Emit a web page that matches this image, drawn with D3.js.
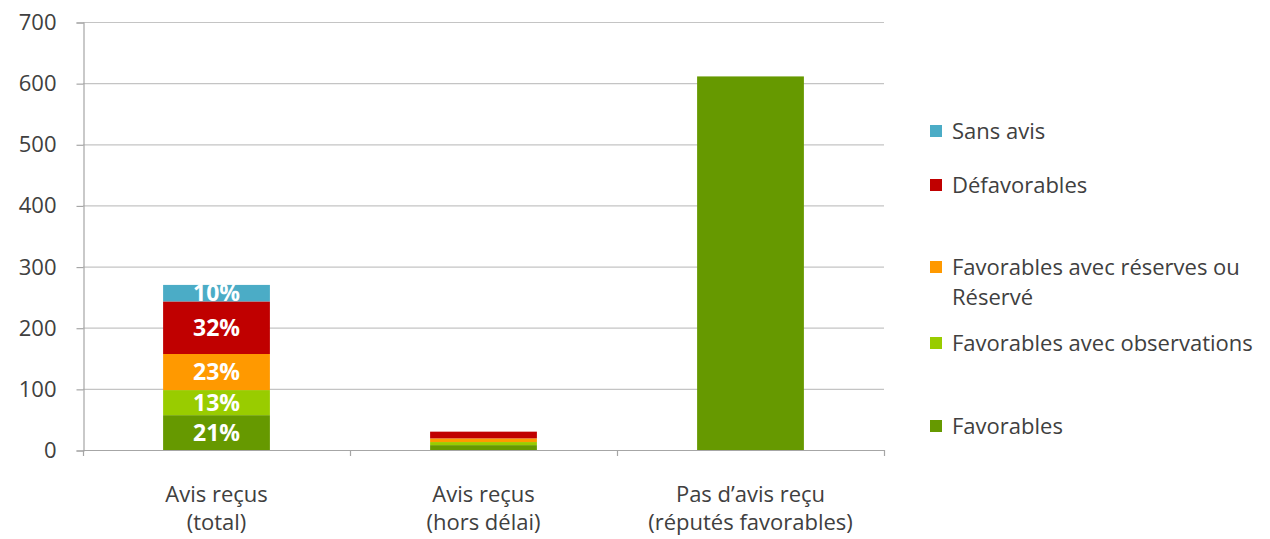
<!DOCTYPE html>
<html>
<head>
<meta charset="utf-8">
<script src="https://cdn.jsdelivr.net/npm/d3@7"></script>
<style>
  body { margin: 0; background: #fff; }
  text { font-family: "Open Sans", "Noto Sans", sans-serif; }
</style>
</head>
<body>
<svg id="chart" width="1270" height="539"></svg>
<script>
// categories on the x axis (two lines each)
var categories = ["total", "horsdelai", "reputes"];
var categoryLines = [
  ["Avis reçus", "(total)"],
  ["Avis reçus", "(hors délai)"],
  ["Pas d\u2019avis reçu", "(réputés favorables)"]
];

// series, bottom to top
var seriesNames = ["Favorables", "Favorables avec observations", "Favorables avec réserves ou Réservé", "Défavorables", "Sans avis"];
var seriesColors = ["#669900", "#99CC00", "#FF9900", "#C00000", "#4BACC6"];

// values per series for each category
var favorables = [57, 8, 611];
var favObservations = [41, 5, 0];
var favReserves = [59, 6, 0];
var defavorables = [86, 11, 0];
var sansAvis = [27, 0, 0];

// percentage labels on the first bar
var pctLabels = ["21%", "13%", "23%", "32%", "10%"];

var yTicks = [0, 100, 200, 300, 400, 500, 600, 700];

var legendLines = [
  ["Sans avis"],
  ["Défavorables"],
  ["Favorables avec réserves ou", "Réservé"],
  ["Favorables avec observations"],
  ["Favorables"]
];

var values = [favorables, favObservations, favReserves, defavorables, sansAvis];
var table = categories.map(function(c, i) {
  var row = { cat: c };
  seriesNames.forEach(function(s, j) { row[s] = values[j][i]; });
  return row;
});

var svg = d3.select("#chart");
var plotLeft = 83, plotRight = 884, plotTop = 22, plotBottom = 450;

var x = d3.scaleBand().domain(categories).range([plotLeft, plotRight]).paddingInner(0.6).paddingOuter(0.3);
var y = d3.scaleLinear().domain([0, 700]).range([plotBottom, plotTop]);

// gridlines
svg.append("g")
  .selectAll("line")
  .data(yTicks.slice(1))
  .enter().append("line")
  .attr("x1", plotLeft).attr("x2", plotRight)
  .attr("y1", function(d) { return y(d) + 0.5; })
  .attr("y2", function(d) { return y(d) + 0.5; })
  .attr("stroke", "#c4c4c4")
  .attr("stroke-width", 1.2);

// y axis
var yAxis = svg.append("g")
  .attr("transform", "translate(" + (plotLeft + 0.5) + ",0.5)")
  .call(d3.axisLeft(y).tickValues(yTicks).tickSize(7).tickPadding(20));
yAxis.selectAll("path, line").attr("stroke", "#a6a6a6").attr("stroke-width", 1.2);
yAxis.selectAll("text").attr("font-size", 22).attr("fill", "#404040");

// x axis line with boundary ticks
var xb = svg.append("g");
xb.append("line")
  .attr("x1", plotLeft).attr("x2", plotRight + 1)
  .attr("y1", plotBottom + 0.5).attr("y2", plotBottom + 0.5)
  .attr("stroke", "#a6a6a6").attr("stroke-width", 1.2);
var bounds = [plotLeft].concat(categories.map(function(c) { return x(c) + x.bandwidth() + x.step() * 0.3; }));
xb.selectAll("line.tk")
  .data(bounds)
  .enter().append("line")
  .attr("class", "tk")
  .attr("x1", function(d) { return d + 0.5; })
  .attr("x2", function(d) { return d + 0.5; })
  .attr("y1", plotBottom).attr("y2", plotBottom + 6)
  .attr("stroke", "#a6a6a6").attr("stroke-width", 1.2);

// category labels
categories.forEach(function(c, i) {
  var t = svg.append("text")
    .attr("x", x(c) + x.bandwidth() / 2)
    .attr("y", 502)
    .attr("text-anchor", "middle")
    .attr("font-size", 22)
    .attr("fill", "#404040");
  categoryLines[i].forEach(function(line, k) {
    t.append("tspan").attr("x", x(c) + x.bandwidth() / 2).attr("dy", k === 0 ? 0 : 28).text(line);
  });
});

// stacked bars
var stack = d3.stack().keys(seriesNames)(table);
svg.append("g")
  .selectAll("g")
  .data(stack)
  .enter().append("g")
  .attr("fill", function(d, i) { return seriesColors[i]; })
  .selectAll("rect")
  .data(function(d) { return d; })
  .enter().append("rect")
  .attr("x", function(d) { return x(d.data.cat); })
  .attr("y", function(d) { return y(d[1]); })
  .attr("width", x.bandwidth())
  .attr("height", function(d) { return y(d[0]) - y(d[1]); });

// percentage labels
svg.append("g")
  .selectAll("text")
  .data(stack)
  .enter().append("text")
  .attr("x", x(categories[0]) + x.bandwidth() / 2)
  .attr("y", function(d) { return (y(d[0][0]) + y(d[0][1])) / 2; })
  .attr("dy", "0.36em")
  .attr("text-anchor", "middle")
  .attr("font-size", 23)
  .attr("font-weight", "bold")
  .attr("fill", "#fff")
  .text(function(d, i) { return pctLabels[i]; });

// legend
var legendY = [131, 185, 267, 343, 426];
var legend = svg.append("g");
legendLines.forEach(function(lines, i) {
  legend.append("rect")
    .attr("x", 930).attr("y", legendY[i] - 6)
    .attr("width", 12).attr("height", 12)
    .attr("fill", seriesColors[seriesColors.length - 1 - i]);
  var t = legend.append("text")
    .attr("x", 952).attr("y", legendY[i])
    .attr("font-size", 22)
    .attr("fill", "#404040");
  lines.forEach(function(line, k) {
    t.append("tspan").attr("x", 952).attr("dy", k === 0 ? "0.35em" : 30).text(line);
  });
});
</script>
</body>
</html>
